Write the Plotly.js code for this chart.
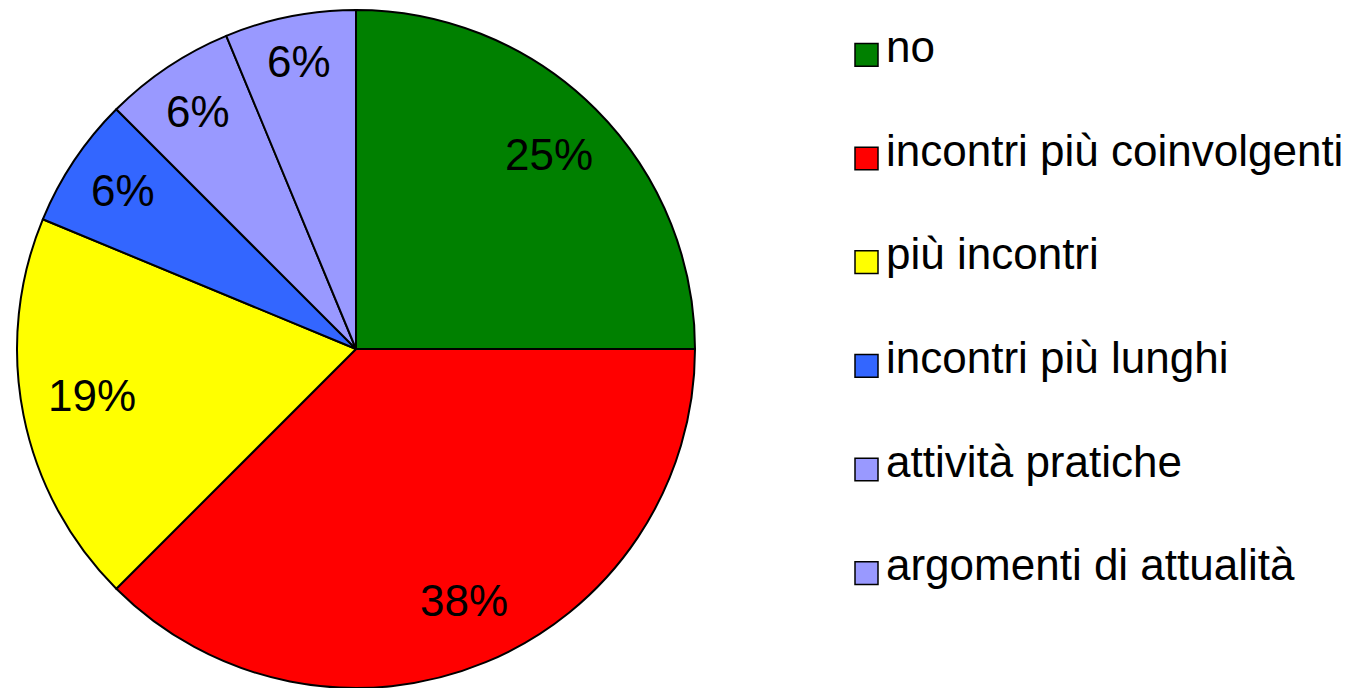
<!DOCTYPE html>
<html>
<head>
<meta charset="utf-8">
<script src="https://cdn.plot.ly/plotly-3.0.1.min.js"></script>
<style>html,body{margin:0;padding:0;background:#fff;}#chart{width:1358px;height:688px;}</style>
</head>
<body>
<div id="chart"></div>
<script>
const categories = ["no", "incontri più coinvolgenti", "più incontri", "incontri più lunghi", "attività pratiche", "argomenti di attualità"];
const counts = [4, 6, 3, 1, 1, 1];
const colors = ["#008000", "#FF0000", "#FFFF00", "#3366FF", "#9999FF", "#9999FF"];

const W = 1358, H = 688;
const FONT = "Liberation Sans, Arial, sans-serif";
const FS = 44;
const MT = 10;
const domX = [17 / W, 695 / W];

const trace = {
  type: "pie",
  labels: categories,
  values: counts,
  sort: false,
  direction: "clockwise",
  rotation: 0,
  marker: { colors: colors, line: { color: "#000000", width: 2 } },
  textinfo: "none",
  domain: { x: domX, y: [0, 1] },
  hoverinfo: "label+percent",
  showlegend: false
};

const shapes = [], annotations = [];
const GLYPH_OFF = 10; // annotation box centre sits above the digit glyph centre (px)

// percentage labels: on each slice's mid-angle, pushed outward until the
// label's outer corner is a fixed margin inside the rim
const total = counts.reduce((a, b) => a + b, 0);
const plotH = H - MT;
const cx = (domX[0] + domX[1]) / 2 * W;
const cy = MT + plotH / 2;
const R = Math.min((domX[1] - domX[0]) * W, plotH) / 2;
const MARGIN = 22;
function textHalfWidth(t) {
  let w = 0;
  for (const ch of t) w += (ch === "%" ? 0.889 : 0.556);
  return w * FS / 2 + 1;
}
const h2 = 17;
let cum = 0;
counts.forEach((v, i) => {
  const mid = (cum + v / 2) / total * 2 * Math.PI;
  cum += v;
  const txt = Math.round(v / total * 100) + "%";
  const w2 = textHalfWidth(txt);
  const s = Math.abs(Math.sin(mid)), c = Math.abs(Math.cos(mid));
  let lo = 0, hi = R;
  for (let k = 0; k < 50; k++) {
    const d = (lo + hi) / 2;
    const dist = Math.hypot(s * d + w2, c * d + h2);
    if (dist > R - MARGIN) hi = d; else lo = d;
  }
  const rr = lo;
  const px = cx + rr * Math.sin(mid);
  const py = cy - rr * Math.cos(mid);
  annotations.push({
    xref: "paper", yref: "paper",
    x: px / W, y: 1 - (py - GLYPH_OFF) / H,
    xanchor: "center", yanchor: "middle",
    text: txt, showarrow: false,
    font: { family: FONT, size: FS, color: "#000000" }
  });
});

// custom legend built from the category list
const step = 105.2;
categories.forEach((c, i) => {
  const sy = 45.5 + step * i;
  shapes.push({
    type: "rect", xref: "paper", yref: "paper",
    x0: 855 / W, x1: 878 / W,
    y0: 1 - (sy + 11.5) / H, y1: 1 - (sy - 11.5) / H,
    fillcolor: colors[i], line: { color: "#000000", width: 1.5 }
  });
  annotations.push({
    xref: "paper", yref: "paper",
    x: 884 / W, y: 1 - (37 + step * i) / H,
    xanchor: "left", yanchor: "middle",
    text: c, showarrow: false,
    font: { family: FONT, size: FS, color: "#000000" }
  });
});

const layout = {
  width: W, height: H,
  margin: { l: 0, r: 0, t: MT, b: 0 },
  paper_bgcolor: "#ffffff",
  plot_bgcolor: "#ffffff",
  showlegend: false,
  shapes: shapes,
  annotations: annotations
};

Plotly.newPlot("chart", [trace], layout, { displayModeBar: false, staticPlot: true });
</script>
</body>
</html>
